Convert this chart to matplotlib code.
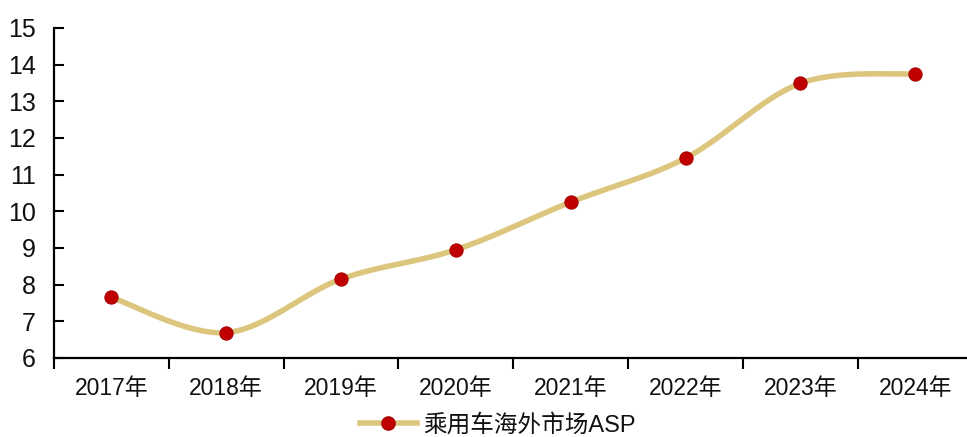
import numpy as np
import matplotlib.pyplot as plt
from matplotlib.lines import Line2D

plt.rcParams['font.family'] = ['Liberation Sans', 'Noto Sans CJK SC']

# Passenger car overseas market ASP by year
years = ['2017年', '2018年', '2019年', '2020年', '2021年', '2022年', '2023年', '2024年']
asp = [7.65, 6.69, 8.15, 8.95, 10.25, 11.45, 13.49, 13.75]
series_name = '乘用车海外市场ASP'

line_color = '#DCC67E'
marker_color = '#C00000'
text_color = '#111111'


def smooth_curve(x, y, n=40):
    # Catmull-Rom style bezier smoothing between neighbouring points
    x = np.asarray(x, float)
    y = np.asarray(y, float)
    px = np.concatenate([[x[0]], x, [x[-1]]])
    py = np.concatenate([[y[0]], y, [y[-1]]])
    xs, ys = [], []
    t = np.linspace(0, 1, n)
    for i in range(1, len(px) - 2):
        p0 = np.array([px[i], py[i]])
        p3 = np.array([px[i + 1], py[i + 1]])
        p1 = p0 + (p3 - np.array([px[i - 1], py[i - 1]])) / 6
        p2 = p3 - (np.array([px[i + 2], py[i + 2]]) - p0) / 6
        pts = ((1 - t) ** 3)[:, None] * p0 + (3 * (1 - t) ** 2 * t)[:, None] * p1 \
            + (3 * (1 - t) * t ** 2)[:, None] * p2 + (t ** 3)[:, None] * p3
        xs.append(pts[:, 0])
        ys.append(pts[:, 1])
    return np.concatenate(xs), np.concatenate(ys)


fig = plt.figure(figsize=(9.67, 4.37), dpi=100)
ax = fig.add_axes([0.0558, 0.181, 0.95, 0.755])

x = np.arange(len(years))
sx, sy = smooth_curve(x, asp)
ax.plot(sx, sy, color=line_color, lw=4, solid_capstyle='round', zorder=2)
ax.plot(x, asp, ls='none', marker='o', ms=9.5, mfc=marker_color,
        mec='#A80000', mew=0.8, zorder=3)

ax.set_xlim(-0.5, len(years) - 0.5)
ax.set_ylim(6, 15)
ax.set_yticks(range(6, 16))
ax.tick_params(axis='y', direction='in', length=7, width=1.5, labelsize=18,
               pad=13, labelcolor=text_color)
ax.set_xticks(x)
ax.set_xticklabels(years, fontsize=16.5, color=text_color)
ax.set_xticks(np.arange(-0.5, len(years)), minor=True)
ax.tick_params(axis='x', which='major', length=0, pad=14)
ax.tick_params(axis='x', which='minor', direction='out', length=8, width=1.5)

for side in ['top', 'right']:
    ax.spines[side].set_visible(False)
for side in ['left', 'bottom']:
    ax.spines[side].set_linewidth(1.6)

handle = Line2D([], [], color=line_color, lw=4, marker='o', ms=9.5,
                mfc=marker_color, mec='#A80000')
leg = fig.legend([handle], [series_name], loc='center', bbox_to_anchor=(0.515, 0.027),
                 frameon=False, fontsize=17, handlelength=2.4, handletextpad=0.3)
for txt in leg.get_texts():
    txt.set_color(text_color)

fig.savefig('out.png', dpi=100)
